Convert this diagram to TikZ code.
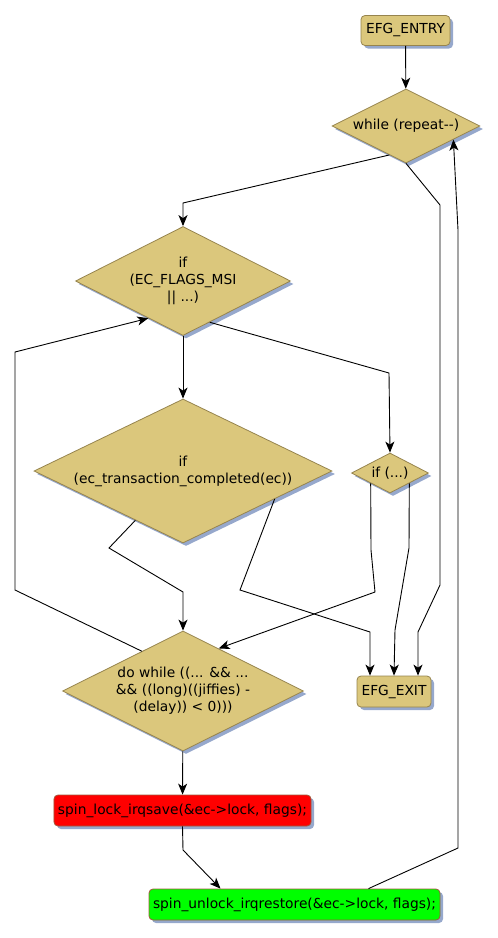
\documentclass[tikz,border=0pt]{standalone}
\usepackage{fontspec}
\setmainfont{DejaVu Sans}
\usetikzlibrary{arrows.meta,shapes.geometric,shadows}

\definecolor{efgfill}{RGB}{219,199,124}
\definecolor{efgline}{RGB}{150,132,78}
\definecolor{efgshadow}{RGB}{150,168,204}
\definecolor{lockline}{RGB}{160,90,60}

\begin{document}
\begin{tikzpicture}[
    x=1pt, y=-1pt,
    every node/.style={font=\fontsize{13.8}{17}\selectfont},
    block/.style={draw=efgline, fill=efgfill, line width=0.8pt, rounded corners=4pt, minimum height=30pt, inner xsep=4pt, drop shadow={shadow xshift=3pt, shadow yshift=-3pt, fill=efgshadow, opacity=1}},
    cond/.style={draw=efgline, fill=efgfill, line width=0.8pt, diamond, align=center, inner sep=0pt, drop shadow={shadow xshift=3pt, shadow yshift=-3pt, fill=efgshadow, opacity=1}},
    link/.style={-{Stealth[length=11pt, width=9pt, inset=3pt]}, line width=0.9pt}
]
\useasboundingbox (0,0) rectangle (498,938);

\node[block, minimum width=89pt] (entry) at (405.5,30.5) {EFG\_ENTRY};
\node[cond, minimum width=148pt, minimum height=74pt, shape aspect=2] (repeat) at (406,126) {while (repeat-{}-)};
\node[cond, minimum width=215pt, minimum height=109pt, shape aspect=2] (msi) at (183,281) {if\\(EC\_FLAGS\_MSI\\|| ...)};
\node[cond, minimum width=298pt, minimum height=144pt, shape aspect=2.07] (done) at (183,471) {if\\(ec\_transaction\_completed(ec))};
\node[cond, minimum width=77pt, minimum height=40pt, shape aspect=1.9] (other) at (390,473) {if (...)};
\node[cond, minimum width=241pt, minimum height=120pt, shape aspect=2] (dowhile) at (183,691) {do while ((... \&\& ...\\\&\& ((long)((jiffies) -\\(delay)) < 0)))};
\node[block, minimum width=74pt, minimum height=31pt] (exit) at (394,691.5) {EFG\_EXIT};
\node[block, fill=red, draw=lockline, minimum height=31pt] (lock) at (182.5,810.5) {spin\_lock\_irqsave(\&ec->lock, flags);};
\node[block, fill=green, draw=lockline, minimum height=31pt] (unlock) at (294.5,904.5) {spin\_unlock\_irqrestore(\&ec->lock, flags);};

\draw[link] (entry) -- (repeat);
\draw[link] (repeat.240) -- (183,203) -- (msi.north);
\draw[link] (repeat.south) -- (440,205) -- (440,585) -- (418,632) -- ([xshift=24pt]exit.north);
\draw[link] (msi) -- (done);
\draw[link] (msi.303) -- (389,373) -- (other.north);
\draw[link] (done.226) -- (109,548) -- (183,592) -- (dowhile.north);
\draw[link] (done.343) -- (240,590) -- (370,632) -- ([xshift=-24pt]exit.north);
\draw[link] (other.208) -- (371,550) -- (375,592) -- (dowhile.50);
\draw[link] (other.332) -- (409,548) -- (395,630) -- (exit.north);
\draw[link] (dowhile.136) -- (15,590) -- (15,352) -- (msi.227);
\draw[link] (dowhile) -- (lock);
\draw[link] (lock.south) -- (183,850) -- ([xshift=-74pt]unlock.north);
\draw[link] ([xshift=74pt]unlock.north) -- (458,848) -- (458,230) -- (repeat.344);
\end{tikzpicture}
\end{document}
